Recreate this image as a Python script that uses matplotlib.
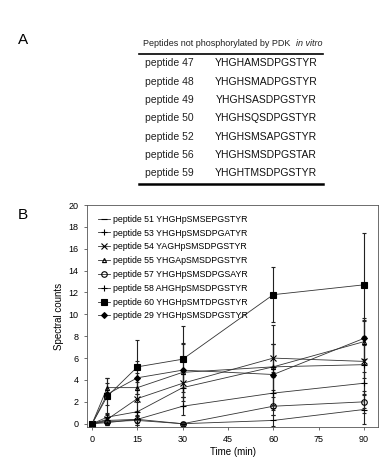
import matplotlib.pyplot as plt
from matplotlib.lines import Line2D

plt.rcParams['font.family'] = ['Liberation Sans', 'DejaVu Sans']

# panel A table
table_title = "Peptides not phosphorylated by PDK"
table_names = ["peptide 47", "peptide 48", "peptide 49", "peptide 50",
               "peptide 52", "peptide 56", "peptide 59"]
table_seqs = ["YHGHAMSDPGSTYR", "YHGHSMADPGSTYR", "YHGHSASDPGSTYR",
              "YHGHSQSDPGSTYR", "YHGHSMSAPGSTYR", "YHGHSMSDPGSTAR",
              "YHGHTMSDPGSTYR"]

# panel B data
times = [0, 5, 15, 30, 60, 90]
labels = ["peptide 51 YHGHpSMSEPGSTYR", "peptide 53 YHGHpSMSDPGATYR",
          "peptide 54 YAGHpSMSDPGSTYR", "peptide 55 YHGApSMSDPGSTYR",
          "peptide 57 YHGHpSMSDPGSAYR", "peptide 58 AHGHpSMSDPGSTYR",
          "peptide 60 YHGHpSMTDPGSTYR", "peptide 29 YHGHpSMSDPGSTYR"]
counts = [
    [0, 0.1, 0.4, 0.0, 0.3, 1.3],
    [0, 0.3, 0.4, 1.6, 2.8, 3.7],
    [0, 0.4, 2.3, 3.7, 6.0, 5.7],
    [0, 3.3, 3.3, 4.7, 5.2, 7.5],
    [0, 0.2, 0.3, 0.0, 1.6, 2.0],
    [0, 0.6, 1.1, 3.3, 5.2, 5.4],
    [0, 2.5, 5.2, 5.9, 11.8, 12.7],
    [0, 2.7, 4.2, 4.9, 4.5, 7.8],
]
errors = [
    [0, 0.2, 0.3, 0.1, 0.5, 1.3],
    [0, 0.3, 0.8, 0.8, 1.5, 1.0],
    [0, 0.5, 1.5, 1.3, 1.3, 1.5],
    [0, 0.9, 1.3, 2.6, 3.8, 2.0],
    [0, 0.3, 0.4, 0.2, 0.8, 1.0],
    [0, 0.4, 1.2, 1.7, 2.1, 4.0],
    [0, 1.7, 2.5, 3.0, 2.5, 4.7],
    [0, 1.0, 1.5, 2.5, 2.8, 1.9],
]
markers = ['_', '+', 'x', '^', 'o', '+', 's', 'D']
fills = ['k', 'k', 'none', 'none', 'none', 'k', 'k', 'k']
sizes = [4, 4, 4, 3, 4, 4, 5, 3]

fig = plt.figure(figsize=(3.89, 4.59), dpi=100)
W, H = 389, 459

def fx(px):
    return px / W

def fy(py):
    return 1 - py / H

# panel A
fig.text(fx(18), fy(40), "A", fontsize=11, va='center')
fig.text(fx(143), fy(43), table_title, fontsize=6.5, va='center', color='#222222')
fig.text(fx(322), fy(43), "in vitro", fontsize=6.5, va='center', ha='right',
         style='italic', color='#222222')
fig.add_artist(Line2D([fx(139), fx(323)], [fy(53.5), fy(53.5)], color='k', lw=1.2))
for i, (n, s) in enumerate(zip(table_names, table_seqs)):
    yy = fy(63.3 + i * 18.33)
    fig.text(fx(145), yy, n, fontsize=7.5, va='center', color='#222222')
    fig.text(fx(266), yy, s, fontsize=7.5, va='center', ha='center', color='#111111')
fig.add_artist(Line2D([fx(139), fx(323)], [fy(183.5), fy(183.5)], color='k', lw=1.8))

# panel B
fig.text(fx(18), fy(215), "B", fontsize=11, va='center')
ax = fig.add_axes([fx(87), fy(427), fx(378) - fx(87), fy(205) - fy(427)])
handles = []
for y, e, lab, m, fc, ms in zip(counts, errors, labels, markers, fills, sizes):
    ax.errorbar(times, y, yerr=e, color='#333333', lw=0.6,
                marker=m, mfc=fc, mec='k', ms=ms, mew=0.8,
                elinewidth=0.8, ecolor='#222222', capsize=1.5, capthick=0.6)
    handles.append(Line2D([], [], color='#333333', lw=0.6, marker=m, mfc=fc,
                          mec='k', ms=ms, mew=0.8, label=lab))

ax.set_xlim(-1.7, 94.7)
ax.set_ylim(-0.3, 20)
ax.set_xticks([0, 15, 30, 45, 60, 75, 90])
ax.set_yticks(range(0, 21, 2))
ax.tick_params(labelsize=6.5, length=2.5, width=0.6, color='#555555')
for sp in ax.spines.values():
    sp.set_linewidth(0.6)
    sp.set_color('#555555')
ax.set_xlabel("Time (min)", fontsize=7, labelpad=2)
ax.set_ylabel("Spectral counts", fontsize=7, labelpad=3)

ax.legend(handles=handles, loc='upper left', frameon=False, fontsize=6.3,
          handlelength=1.4, handletextpad=0.3, labelspacing=0.55,
          borderaxespad=0.2, bbox_to_anchor=(0.02, 0.98))

fig.savefig("out.png", dpi=100)
